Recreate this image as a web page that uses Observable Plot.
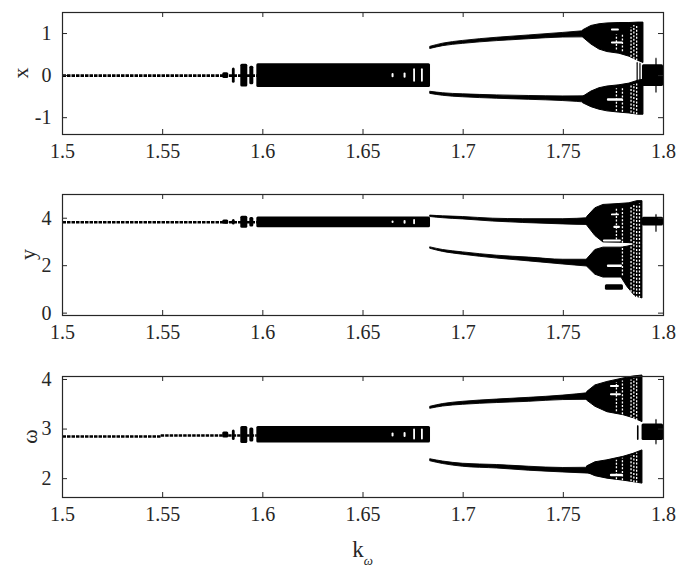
<!DOCTYPE html>
<html><head><meta charset="utf-8">
<script src="https://cdn.jsdelivr.net/npm/d3@7"></script>
<script src="https://cdn.jsdelivr.net/npm/@observablehq/plot@0.6"></script>
<style>
body{margin:0;background:#fff;}
#chart{width:694px;height:567px;overflow:hidden;position:relative;}
#chart svg{display:block;}
</style></head><body><div id="chart"></div>
<script>
// ---- axis ticks ----
const kTicks = [1.5, 1.55, 1.6, 1.65, 1.7, 1.75, 1.8];
const xTicks = [-1, 0, 1];
const yTicks = [0, 2, 4];
const wTicks = [2, 3, 4];

// ---- period-1 (fixed point) line: [k0, k1, value] ----
const xFixed = [[1.5, 1.597, 0]];
const yFixed = [[1.5, 1.597, 3.83]];
const wFixed = [[1.5, 1.549, 2.85], [1.549, 1.597, 2.87]];

// ---- dense blocks of points: [k0, k1, lo, hi] ----
const xBlocks = [
  [1.5800, 1.5830, -0.07, 0.07], [1.5848, 1.5862, -0.18, 0.18],
  [1.5890, 1.5925, -0.27, 0.27], [1.5935, 1.5955, -0.22, 0.22],
  [1.5970, 1.6837, -0.28, 0.28],
  [1.7868, 1.7874, -0.20, 0.32], [1.7882, 1.7888, -0.15, 0.30],
  [1.7895, 1.8000, -0.26, 0.26], [1.7962, 1.7968, -0.42, 0.42]
];
const yBlocks = [
  [1.5800, 1.5830, 3.75, 3.92], [1.5848, 1.5862, 3.71, 3.95],
  [1.5890, 1.5925, 3.58, 4.08], [1.5935, 1.5955, 3.63, 4.03],
  [1.5970, 1.6837, 3.60, 4.05],
  [1.7710, 1.7800, 0.96, 1.20],
  [1.7895, 1.8000, 3.67, 4.04], [1.7962, 1.7968, 3.40, 4.17]
];
const wBlocks = [
  [1.5800, 1.5830, 2.82, 2.94], [1.5848, 1.5862, 2.77, 2.98],
  [1.5890, 1.5925, 2.71, 3.05], [1.5935, 1.5955, 2.74, 3.02],
  [1.5970, 1.6837, 2.72, 3.05],
  [1.7870, 1.7878, 2.77, 3.07],
  [1.7893, 1.8000, 2.77, 3.10], [1.7962, 1.7968, 2.68, 3.20]
];

// ---- period-2 branches: [k, centre, half-thickness] ----
const xUpper = [[1.6837,0.66,0.025],[1.69,0.73,0.03],[1.70,0.79,0.035],[1.717,0.86,0.04],[1.733,0.91,0.045],[1.75,0.96,0.055],[1.764,0.99,0.08]];
const xLower = [[1.6837,-0.41,0.025],[1.69,-0.45,0.03],[1.70,-0.48,0.035],[1.717,-0.51,0.04],[1.733,-0.53,0.045],[1.75,-0.55,0.055],[1.764,-0.57,0.08]];
const yUpper = [[1.6837,4.08,0.03],[1.69,4.04,0.04],[1.70,4.00,0.05],[1.715,3.92,0.06],[1.73,3.88,0.08],[1.75,3.85,0.11],[1.764,3.86,0.15]];
const yLower = [[1.6837,2.74,0.03],[1.69,2.62,0.04],[1.70,2.51,0.05],[1.717,2.36,0.06],[1.733,2.26,0.08],[1.75,2.15,0.10],[1.764,2.10,0.15]];
const wUpper = [[1.6837,3.43,0.02],[1.69,3.48,0.025],[1.70,3.52,0.03],[1.717,3.56,0.035],[1.733,3.59,0.04],[1.75,3.63,0.045],[1.764,3.66,0.07]];
const wLower = [[1.6837,2.37,0.02],[1.69,2.32,0.025],[1.70,2.27,0.03],[1.717,2.24,0.035],[1.733,2.20,0.04],[1.75,2.17,0.045],[1.764,2.16,0.06]];

// ---- chaotic clouds (envelopes): [k, lo, hi] ----
const xCloudUp = [[1.760,0.90,1.08],[1.764,0.74,1.18],[1.768,0.62,1.22],[1.772,0.56,1.24],[1.778,0.52,1.25],[1.783,0.45,1.25],[1.7875,0.35,1.26],[1.790,0.30,1.26]];
const xCloudLo = [[1.760,-0.66,-0.50],[1.764,-0.75,-0.38],[1.768,-0.81,-0.30],[1.772,-0.85,-0.26],[1.778,-0.88,-0.23],[1.783,-0.90,-0.19],[1.7875,-0.93,-0.12],[1.790,-0.93,-0.10]];
const yCloudUp = [[1.762,3.68,4.06],[1.766,3.25,4.42],[1.770,2.98,4.56],[1.778,2.97,4.60],[1.783,2.95,4.63],[1.787,2.90,4.72],[1.7895,2.90,4.72]];
const yCloudLo = [[1.762,1.95,2.28],[1.766,1.62,2.66],[1.770,1.50,2.76],[1.779,1.50,2.76],[1.782,1.10,2.80],[1.786,0.70,2.88],[1.7895,0.62,2.90]];
const wCloudUp = [[1.762,3.57,3.75],[1.766,3.45,3.88],[1.772,3.34,3.95],[1.780,3.28,4.02],[1.785,3.22,4.06],[1.7895,3.14,4.08]];
const wCloudLo = [[1.762,2.12,2.25],[1.766,2.05,2.33],[1.772,2.00,2.37],[1.780,1.96,2.44],[1.785,1.93,2.50],[1.7895,1.90,2.57]];

// ---- gaps (white) inside the clouds: [k0, k1, lo, hi] ----
const xHoles = [[1.6645,1.6655,-0.05,0.05],[1.6705,1.6715,-0.06,0.06],[1.6753,1.6762,-0.16,0.16],[1.6792,1.6801,-0.16,0.16],
  [1.7740,1.7780,1.06,1.11],[1.7740,1.7800,0.75,0.80],[1.7720,1.7800,-0.61,-0.55]];
const yHoles = [[1.6645,1.6655,3.78,3.88],[1.6705,1.6715,3.75,3.90],[1.6753,1.6762,3.72,3.95],
  [1.7740,1.7780,4.10,4.18],[1.7752,1.7785,3.57,3.66],[1.7720,1.7795,1.92,2.03],[1.7700,1.7790,3.00,3.08]];
const wHoles = [[1.6645,1.6655,2.84,2.92],[1.6705,1.6715,2.83,2.93],[1.6753,1.6762,2.78,3.00],[1.6792,1.6801,2.78,3.00],
  [1.7735,1.7780,3.84,3.88],[1.7735,1.7790,3.67,3.71],[1.7735,1.7800,2.04,2.09]];

// ---- sparse (speckled) columns inside the clouds: [k, lo, hi] ----
const xSparse = [[1.7765,0.62,0.98],[1.7795,0.58,0.98],[1.7838,0.45,1.15],[1.7852,0.40,1.20],[1.7866,0.36,1.20],
  [1.7765,-0.84,-0.30],[1.7795,-0.86,-0.28],[1.7838,-0.88,-0.22],[1.7852,-0.90,-0.20],[1.7866,-0.92,-0.15]];
const ySparse = [[1.7765,3.10,4.45],[1.7795,1.60,4.45],[1.7838,0.75,4.50],[1.7852,0.68,4.60],[1.7866,0.65,4.60],[1.7880,0.65,4.62]];
const wSparse = [[1.7765,3.36,3.95],[1.7795,3.30,3.98],[1.7838,3.25,4.00],[1.7852,3.21,4.02],[1.7866,3.18,4.04],
  [1.7765,1.99,2.38],[1.7795,1.97,2.42],[1.7838,1.95,2.46],[1.7852,1.93,2.50],[1.7866,1.92,2.52]];

const INK = "#262626";
const FONT = "'Liberation Serif','Times New Roman',serif";

function panel(o) {
  const W = 694, ML = 62, MR = 31;
  const plotW = W - ML - MR;
  const plotH = o.height - o.marginTop - o.marginBottom;
  const T = 5;
  const band = rows => rows.map(([k, c, h]) => ({k, lo: c - h, hi: c + h}));
  const env = rows => rows.map(([k, lo, hi]) => ({k, lo, hi}));
  const svg = Plot.plot({
    width: W, height: o.height,
    marginLeft: ML, marginRight: MR, marginTop: o.marginTop, marginBottom: o.marginBottom,
    style: {fontFamily: FONT, fontSize: "20px", color: INK, background: "white"},
    x: {domain: [1.5, 1.8], ticks: kTicks, tickSize: 0, tickPadding: 9, tickFormat: d => String(d), label: null},
    y: {domain: o.yDomain, ticks: o.yTicks, tickSize: 0, tickPadding: 11, tickFormat: d => String(d), label: null},
    marks: [
      Plot.link(o.fixed, {x1: d => d[0], x2: d => d[1], y1: d => d[2], y2: d => d[2],
        stroke: "#000", strokeWidth: 2.6, strokeDasharray: "3.5,1"}),
      Plot.rect(o.blocks, {x1: d => d[0], x2: d => d[1], y1: d => d[2], y2: d => d[3], fill: "#000", rx: 1.5}),
      ...o.branches.map(b => Plot.areaY(band(b), {x: "k", y1: "lo", y2: "hi", fill: "#000",
        stroke: "#000", strokeWidth: 0.9, curve: "monotone-x"})),
      ...o.clouds.map(c => Plot.areaY(env(c), {x: "k", y1: "lo", y2: "hi", fill: "#000",
        stroke: "#000", strokeWidth: 1})),
      Plot.rect(o.holes, {x1: d => d[0], x2: d => d[1], y1: d => d[2], y2: d => d[3], fill: "white", rx: 1}),
      Plot.link(o.sparse, {x1: d => d[0], x2: d => d[0], y1: d => d[1], y2: d => d[2],
        stroke: "white", strokeWidth: 1.3, strokeDasharray: "2,1.6"}),
      Plot.ruleX(kTicks, {x: d => d, stroke: INK, insetTop: plotH - T}),
      Plot.ruleX(kTicks, {x: d => d, stroke: INK, insetBottom: plotH - T}),
      Plot.ruleY(o.yTicks, {y: d => d, stroke: INK, insetRight: plotW - T}),
      Plot.ruleY(o.yTicks, {y: d => d, stroke: INK, insetLeft: plotW - T}),
      Plot.frame({stroke: INK, strokeWidth: 1.2})
    ]
  });
  // rotated y-axis title
  d3.select(svg).append("text")
    .attr("transform", `translate(${o.labelX},${o.marginTop + plotH / 2}) rotate(-90)`)
    .attr("text-anchor", "middle").attr("dominant-baseline", "central").attr("fill", INK)
    .style("font-family", FONT).style("font-size", "22px").text(o.yLabel);
  return svg;
}

const chart = document.getElementById("chart");
const p1 = panel({fixed: xFixed, blocks: xBlocks, branches: [xUpper, xLower], clouds: [xCloudUp, xCloudLo], holes: xHoles, sparse: xSparse,
  yDomain: [-1.4, 1.5], yTicks: xTicks, yLabel: "x", labelX: 20, height: 180, marginTop: 12, marginBottom: 46});
const p2 = panel({fixed: yFixed, blocks: yBlocks, branches: [yUpper, yLower], clouds: [yCloudUp, yCloudLo], holes: yHoles, sparse: ySparse,
  yDomain: [-0.1, 5], yTicks: yTicks, yLabel: "y", labelX: 27, height: 182, marginTop: 14, marginBottom: 47});
const p3 = panel({fixed: wFixed, blocks: wBlocks, branches: [wUpper, wLower], clouds: [wCloudUp, wCloudLo], holes: wHoles, sparse: wSparse,
  yDomain: [1.62, 4.06], yTicks: wTicks, yLabel: "ω", labelX: 29, height: 205, marginTop: 14, marginBottom: 70});
chart.append(p1, p2, p3);

// x-axis title k with subscript ω, centred under the last panel
const sx = p3.scale("x");
const t = d3.select(p3).append("text")
  .attr("x", (sx.range[0] + sx.range[1]) / 2).attr("y", 195)
  .attr("text-anchor", "middle").attr("fill", INK)
  .style("font-family", FONT).style("font-size", "23px");
t.append("tspan").text("k");
t.append("tspan").text("ω").attr("dy", 8).style("font-size", "13px").style("font-style", "italic");
</script></body></html>
